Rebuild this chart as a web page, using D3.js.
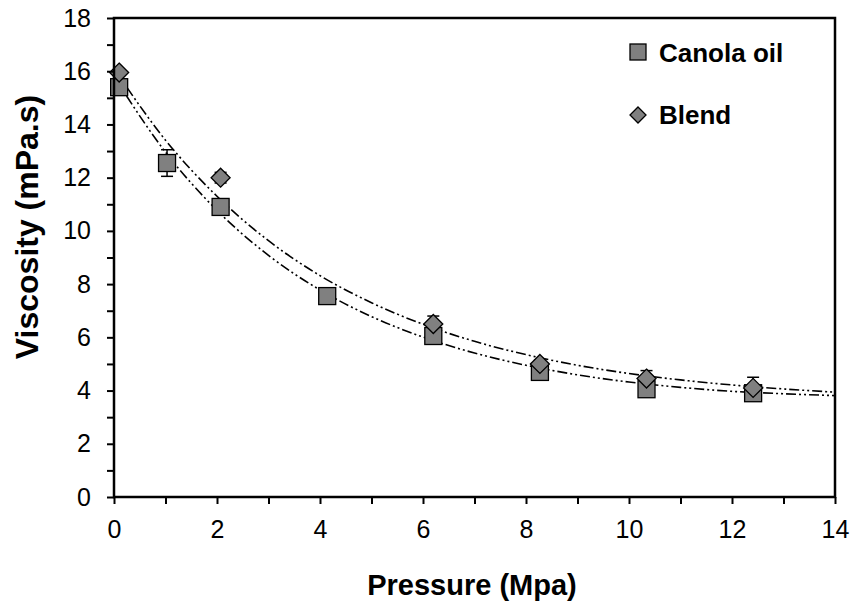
<!DOCTYPE html>
<html>
<head>
<meta charset="utf-8">
<script src="https://cdn.jsdelivr.net/npm/d3@7"></script>
<style>
  body { margin: 0; background: #fff; }
  svg text { font-family: Arial, "Liberation Sans", sans-serif; }
</style>
</head>
<body>
<svg id="chart" width="852" height="605"></svg>
<script>
// pressure (MPa)
var pressure = [0.1, 1.03, 2.07, 4.14, 6.2, 8.27, 10.34, 12.41];
var canola = [15.4, 12.55, 10.9, 7.55, 6.05, 4.7, 4.05, 3.9];
var canolaErr = [0.2, 0.5, 0.2, 0.1, 0.2, 0.2, 0.2, 0.2];
var blendPressure = [0.1, 2.07, 6.2, 8.27, 10.34, 12.41];
var blend = [15.95, 12.0, 6.5, 5.0, 4.45, 4.1];
var blendErr = [0.1, 0.2, 0.3, 0.15, 0.3, 0.4];
// trend lines
var trendX = [0, 1, 2, 3, 4, 5, 6, 7, 8, 9, 10, 11, 12, 13, 14];
var canolaTrend = [15.8, 12.96, 10.77, 9.08, 7.78, 6.78, 6.01, 5.41, 4.95, 4.59, 4.32, 4.12, 3.97, 3.88, 3.81];
var blendTrend = [16.1, 13.41, 11.3, 9.63, 8.32, 7.3, 6.49, 5.85, 5.35, 4.95, 4.64, 4.4, 4.21, 4.06, 3.94];
var xTicks = [0, 2, 4, 6, 8, 10, 12, 14];
var yTicks = [0, 2, 4, 6, 8, 10, 12, 14, 16, 18];

var m = { left: 114, right: 835, top: 18, bottom: 497 };
var svg = d3.select("#chart");

var x = d3.scaleLinear().domain([0, 14]).range([m.left, m.right]);
var y = d3.scaleLinear().domain([0, 18]).range([m.bottom, m.top]);

var line = d3.line()
    .x(function (d) { return x(d[0]); })
    .y(function (d) { return y(d[1]); })
    .curve(d3.curveMonotoneX);

[canolaTrend, blendTrend].forEach(function (vals) {
    svg.append("path")
        .attr("d", line(trendX.map(function (t, i) { return [t, vals[i]]; })))
        .attr("fill", "none")
        .attr("stroke", "#000")
        .attr("stroke-width", 1.6)
        .attr("stroke-dasharray", "10,3,2,3,2,3");
});

/* error bars */
function errBars(xs, ys, es) {
    xs.forEach(function (p, i) {
        var g = svg.append("g").attr("stroke", "#000").attr("stroke-width", 1.5);
        g.append("line").attr("x1", x(p)).attr("x2", x(p)).attr("y1", y(ys[i] - es[i])).attr("y2", y(ys[i] + es[i]));
        [ys[i] - es[i], ys[i] + es[i]].forEach(function (v) {
            g.append("line").attr("x1", x(p) - 6).attr("x2", x(p) + 6).attr("y1", y(v)).attr("y2", y(v));
        });
    });
}
errBars(pressure, canola, canolaErr);
errBars(blendPressure, blend, blendErr);

svg.selectAll("rect.canola")
    .data(pressure)
    .enter()
    .append("rect")
    .attr("class", "canola")
    .attr("x", function (d) { return x(d) - 8.5; })
    .attr("y", function (d, i) { return y(canola[i]) - 8.5; })
    .attr("width", 17)
    .attr("height", 17)
    .attr("fill", "#808080")
    .attr("stroke", "#000")
    .attr("stroke-width", 1.3);

var diamond = function (cx, cy, r) {
    return [[cx, cy - r], [cx + r, cy], [cx, cy + r], [cx - r, cy]].join(" ");
};
svg.selectAll("polygon.blend")
    .data(blendPressure)
    .enter()
    .append("polygon")
    .attr("class", "blend")
    .attr("points", function (d, i) { return diamond(x(d), y(blend[i]), 9.5); })
    .attr("fill", "#808080")
    .attr("stroke", "#000")
    .attr("stroke-width", 1.3);

/* axes */
var xAxis = d3.axisBottom(x).tickValues(d3.range(0, 15, 1)).tickSize(7).tickPadding(16)
    .tickFormat(function (d) { return xTicks.indexOf(d) >= 0 ? d : ""; });
var gx = svg.append("g").attr("transform", "translate(0," + m.bottom + ")").call(xAxis);
var yAxis = d3.axisLeft(y).tickValues(d3.range(0, 19, 1)).tickSize(7).tickPadding(16)
    .tickFormat(function (d) { return yTicks.indexOf(d) >= 0 ? d : ""; });
var gy = svg.append("g").attr("transform", "translate(" + m.left + ",0)").call(yAxis);

[gx, gy].forEach(function (g) {
    g.select(".domain").remove();
    g.selectAll(".tick line").attr("stroke", "#000").attr("stroke-width", 2);
    g.selectAll(".tick text").attr("font-size", 25).attr("fill", "#000")
        .style("font-family", "Arial, 'Liberation Sans', sans-serif");
});

/* frame */
svg.append("rect")
    .attr("x", m.left).attr("y", m.top)
    .attr("width", m.right - m.left).attr("height", m.bottom - m.top)
    .attr("fill", "none").attr("stroke", "#000").attr("stroke-width", 2.5);

/* titles */
svg.append("text")
    .attr("x", 472).attr("y", 595)
    .attr("text-anchor", "middle")
    .attr("font-size", 29).attr("font-weight", "bold")
    .text("Pressure (Mpa)");
svg.append("text")
    .attr("transform", "translate(38,227) rotate(-90)")
    .attr("text-anchor", "middle")
    .attr("font-size", 32).attr("font-weight", "bold")
    .text("Viscosity (mPa.s)");

/* legend */
var lg = svg.append("g");
lg.append("rect").attr("x", 630).attr("y", 44).attr("width", 16).attr("height", 16)
    .attr("fill", "#808080").attr("stroke", "#000").attr("stroke-width", 1.3);
lg.append("polygon").attr("points", diamond(638, 115, 8))
    .attr("fill", "#808080").attr("stroke", "#000").attr("stroke-width", 1.3);
lg.append("text").attr("x", 659).attr("y", 62).attr("font-size", 26).attr("font-weight", "bold").text("Canola oil");
lg.append("text").attr("x", 659).attr("y", 124).attr("font-size", 26).attr("font-weight", "bold").text("Blend");
</script>
</body>
</html>
